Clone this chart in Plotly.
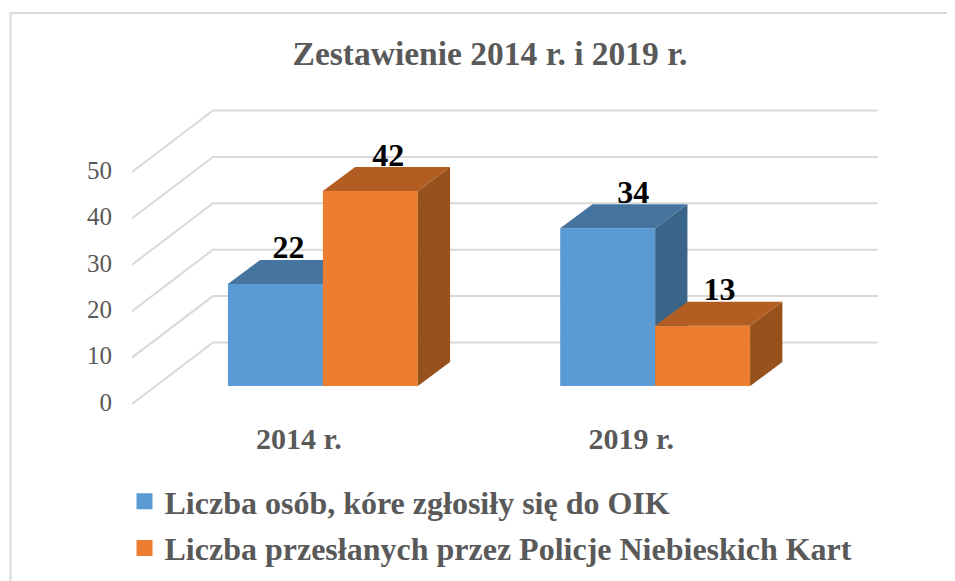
import plotly.graph_objects as go

categories = ["2014 r.", "2019 r."]
series_a_name = "Liczba osób, kóre zgłosiły się do OIK"
series_b_name = "Liczba przesłanych przez Policje Niebieskich Kart"
series_a = [22, 34]
series_b = [42, 13]
y_ticks = [0, 10, 20, 30, 40, 50]
title_text = "Zestawienie 2014 r. i 2019 r."

PAGE = 8  # the browser page's own margin around the figure
W, H = 955, 581 - PAGE
L, R, T, B = 131.5 - PAGE, 878 - PAGE, 100 - PAGE, 404 - PAGE
PX_PER_UNIT = 4.64
PX_PER_CAT = 332.5
x_to_c = lambda p: (p - (322.5 - PAGE)) / PX_PER_CAT
x_range = [x_to_c(L), x_to_c(R)]
y_range = [0, (B - T) / PX_PER_UNIT]

BAR_W = 95 / PX_PER_CAT
BASE = 18 / PX_PER_UNIT
DX, DY = 32.3 / PX_PER_CAT, 24 / PX_PER_UNIT
WALL_X, WALL_Y = 81 / PX_PER_CAT, 61.5 / PX_PER_UNIT
LABEL_Y = 33.5 / PX_PER_UNIT
LABEL_DX_A = [13 / PX_PER_CAT, 25.5 / PX_PER_CAT]
LABEL_DX_B = [18 / PX_PER_CAT, 17 / PX_PER_CAT]
TICK_SHIFT = -24 / PX_PER_CAT

GREY = "#595959"
GRID = "#d9d9d9"
SERIF = "Liberation Serif, Times New Roman, serif"

fig = go.Figure()

# back wall and left wall grid
for t in y_ticks:
    fig.add_trace(go.Scatter(
        x=[x_range[0], x_range[0] + WALL_X, x_range[1]],
        y=[t, t + WALL_Y, t + WALL_Y],
        mode="lines", line=dict(color=GRID, width=2),
        showlegend=False, hoverinfo="skip", xaxis="x", yaxis="y"))


def labels(vals, left, dxs):
    fig.add_trace(go.Scatter(
        x=[i + left + BAR_W / 2 + dxs[i] for i in range(len(vals))],
        y=[BASE + v + LABEL_Y for v in vals],
        text=[str(v) for v in vals], mode="text", textposition="middle center",
        textfont=dict(family=SERIF, size=32, color="black", weight="bold"),
        showlegend=False, hoverinfo="skip", xaxis="x", yaxis="y", cliponaxis=False))


labels(series_a, -BAR_W, LABEL_DX_A)
labels(series_b, 0, LABEL_DX_B)


def series(vals, left, front, top, side, xa, ya):
    fig.add_trace(go.Bar(
        x=list(range(len(vals))), y=vals, base=[BASE] * len(vals),
        width=BAR_W, offset=left, marker=dict(color=front, line=dict(width=0)),
        showlegend=False, xaxis=xa, yaxis=ya))
    for i, v in enumerate(vals):
        x0, x1 = i + left, i + left + BAR_W
        yt = BASE + v
        fig.add_trace(go.Scatter(
            x=[x1, x1 + DX, x1 + DX, x1, x1], y=[BASE, BASE + DY, yt + DY, yt, BASE],
            mode="lines", line=dict(width=0), fill="toself", fillcolor=side,
            showlegend=False, hoverinfo="skip", xaxis=xa, yaxis=ya))
        fig.add_trace(go.Scatter(
            x=[x0, x1, x1 + DX, x0 + DX, x0], y=[yt, yt, yt + DY, yt + DY, yt],
            mode="lines", line=dict(width=0), fill="toself", fillcolor=top,
            showlegend=False, hoverinfo="skip", xaxis=xa, yaxis=ya))


series(series_a, -BAR_W, "#5B9BD5", "#44749F", "#3A6589", "x2", "y2")
series(series_b, 0, "#ED7D31", "#B25D22", "#97511C", "x3", "y3")

# legend entries
for name, col in [(series_a_name, "#5B9BD5"), (series_b_name, "#ED7D31")]:
    fig.add_trace(go.Scatter(
        x=[None], y=[None], name=name, mode="markers", legendgroup=name,
        marker=dict(symbol="square", size=16, color=col), xaxis="x", yaxis="y"))

px = lambda p: (p - PAGE - L) / (R - L)
py = lambda p: (B - (p - PAGE)) / (B - T)
fig.add_shape(type="path", xref="paper", yref="paper", layer="below",
              path=f"M {px(10)} {py(581)} L {px(10)} {py(13)} L {px(955)} {py(13)}",
              line=dict(color=GRID, width=2))

hidden = dict(visible=False, fixedrange=True)
fig.update_layout(
    width=W, height=H, autosize=False,
    margin=dict(l=L, r=W - R, t=T, b=H - B, pad=0, autoexpand=False),
    paper_bgcolor="white", plot_bgcolor="white",
    barmode="overlay", hovermode=False,
    title=dict(text=title_text, x=(490 - PAGE) / W, xanchor="center",
               y=1 - (53 - PAGE) / H, yanchor="middle",
               font=dict(family=SERIF, size=33.5, color=GREY, weight="bold")),
    xaxis=dict(range=x_range, tickmode="array",
               tickvals=[i + TICK_SHIFT for i in range(len(categories))], ticktext=categories,
               showgrid=False, zeroline=False, showline=False, ticks="outside", ticklen=8,
               tickcolor="rgba(0,0,0,0)",
               tickfont=dict(family=SERIF, size=30, color=GREY, weight="bold"), fixedrange=True),
    yaxis=dict(range=y_range, tickmode="array", tickvals=y_ticks,
               showgrid=False, zeroline=False, showline=False, ticks="outside", ticklen=14,
               tickcolor="rgba(0,0,0,0)", ticklabelshift=-2,
               tickfont=dict(family=SERIF, size=25, color=GREY), fixedrange=True),
    xaxis2=dict(overlaying="x", matches="x", anchor="y2", **hidden),
    yaxis2=dict(overlaying="y", matches="y", anchor="x2", **hidden),
    xaxis3=dict(overlaying="x", matches="x", anchor="y3", **hidden),
    yaxis3=dict(overlaying="y", matches="y", anchor="x3", **hidden),
    legend=dict(x=px(124), xanchor="left", y=py(474), yanchor="top",
                orientation="v", traceorder="grouped", tracegroupgap=2,
                font=dict(family=SERIF, size=32, color=GREY, weight="bold"),
                bgcolor="rgba(0,0,0,0)"),
)

fig.write_html("out.html", config=dict(displayModeBar=False))
